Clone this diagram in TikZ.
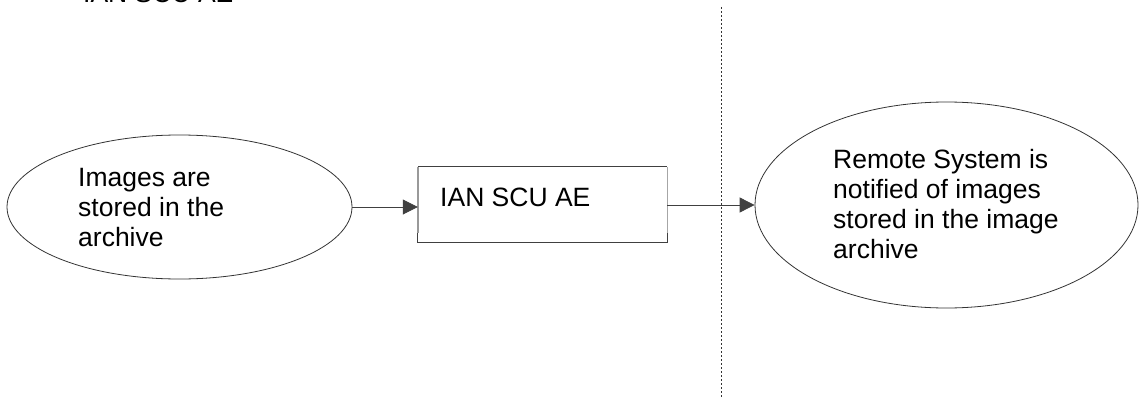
\documentclass[tikz,border=0pt]{standalone}
\usepackage{fontspec}
\setmainfont{Liberation Sans}
\usetikzlibrary{shapes.geometric,arrows.meta}
\tikzset{
  bubble/.style={ellipse,draw=black!80,line width=0.8pt,inner sep=0pt},
  txt/.style={font=\fontsize{26.5}{30}\selectfont,align=left,inner sep=0pt,anchor=north west},
  flow/.style={draw=black!75,line width=0.8pt,-{Triangle[length=15pt,width=15pt]}},
  sep/.style={draw=black!80,line width=0.8pt,dash pattern=on 2pt off 2pt}
}
\begin{document}
\begin{tikzpicture}[x=1pt,y=-1pt]
\useasboundingbox (0,0) rectangle (1139,396);
% top label
\node[font=\fontsize{26.5}{30}\selectfont,inner sep=0pt,anchor=base west] (toplabel) at (83,3) {IAN SCU AE};
% separator
\coordinate (septop) at (721,7);
\coordinate (sepbot) at (721,400);
\draw[sep] (septop) -- (sepbot);
% left ellipse
\node[bubble,minimum width=345pt,minimum height=144pt] (src) at (179.5,207) {};
\node[txt] (srctext) at (78,168) {Images are\\stored in the\\archive};
% box
\node[minimum width=249pt,minimum height=75pt,inner sep=0pt] (box) at (542.5,204.5) {};
\draw[black!75,line width=0.8pt] (box.north west) -- (box.north east);
\draw[black!40,line width=1.4pt] (box.north west) -- ([yshift=9pt]box.south west);
\draw[black!35,line width=0.8pt] (box.north east) -- ([yshift=9pt]box.south east);
\draw[black!75,line width=0.8pt] ([yshift=9pt]box.south west) -- (box.south west) -- (box.south east) -- ([yshift=9pt]box.south east);
\node[txt] (boxtext) at (440,188) {IAN SCU AE};
% right ellipse
\node[bubble,minimum width=383pt,minimum height=206pt] (dst) at (946.5,205) {};
\node[txt] (dsttext) at (833,149) {Remote System is\\notified of images\\stored in the image\\archive};
% arrows
\draw[flow] (src.east) -- (box.west |- src.east);
\draw[flow] (box.east |- dst.west) -- (dst.west);
\end{tikzpicture}
\end{document}
